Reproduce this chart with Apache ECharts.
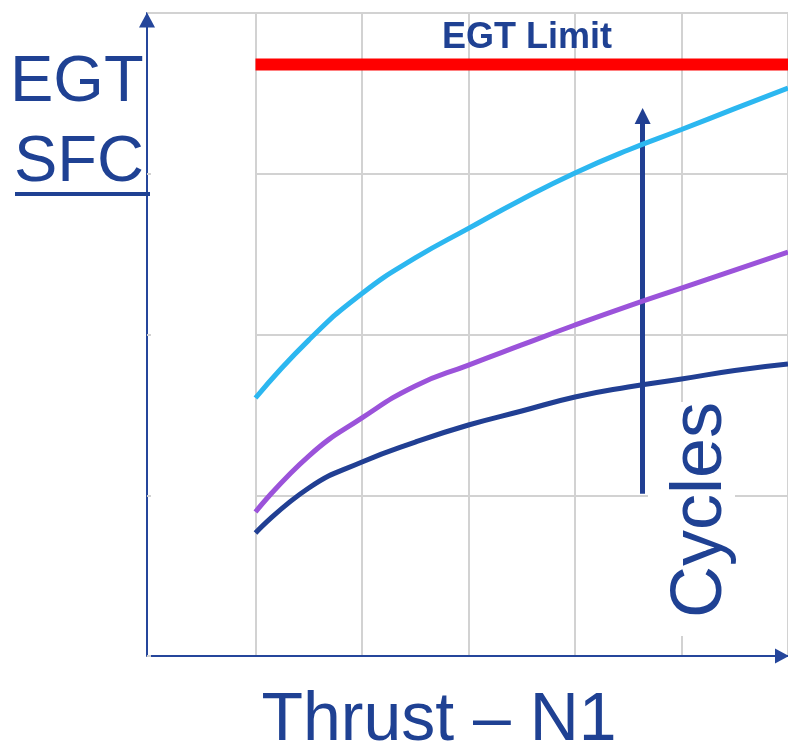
<!DOCTYPE html>
<html><head><meta charset="utf-8">
<script src="https://cdn.jsdelivr.net/npm/echarts@6/dist/echarts.min.js"></script>
<style>html,body{margin:0;padding:0;background:#fff}#c{width:788px;height:751px}</style>
</head><body><div id="c"></div>
<script>
// Thrust (N1) positions, arbitrary units
const thrust = [100, 150, 200, 250, 300, 350, 400, 450, 500, 550, 600];
// EGT / SFC curves for increasing cycles
const cyclesHigh = [160.5, 196.5, 225.5, 247.6, 266.0, 284.0, 300.5, 314.8, 327.5, 340.5, 353.3];
const cyclesMid  = [89.6, 124.4, 148.1, 168.0, 181.0, 193.5, 205.9, 217.7, 228.9, 240.1, 251.3];
const cyclesLow  = [76.5, 104.5, 120.7, 133.1, 143.7, 152.4, 161.1, 167.3, 172.3, 177.6, 181.6];
// EGT limit line
const egtLimitX = [100, 600];
const egtLimitValue = 368;
// "Cycles" arrow
const cyclesArrowX = 463.5;
const cyclesArrowY = [101, 336];

const TXT = '#1F4193';
const AX = '#25469B';
const GRID = '#D2D2D2';
const FONT = '"Liberation Sans", Arial, sans-serif';

const pairs = (ys) => thrust.map((x, i) => [x, ys[i]]);

const chart = echarts.init(document.getElementById('c'), null, {renderer: 'canvas'});
chart.setOption({
  animation: false,
  backgroundColor: '#ffffff',
  grid: [
    {left: 149, top: 13, width: 641, height: 643},
    {left: 256, top: 13, width: 534, height: 643}
  ],
  xAxis: [
    {gridIndex: 0, type: 'value', min: 0, max: 600, interval: 100, position: 'bottom',
     axisLine: {show: true, onZero: false, lineStyle: {color: AX, width: 2},
       symbol: ['none', 'triangle'], symbolSize: [15, 14], symbolOffset: [0, -6]},
     axisTick: {show: false}, axisLabel: {show: false},
     splitLine: {show: true, showMinLine: false, lineStyle: {color: GRID, width: 2}}},
    {gridIndex: 0, type: 'value', min: 0, max: 600, position: 'top',
     axisLine: {show: true, onZero: false, lineStyle: {color: GRID, width: 2}},
     axisTick: {show: false}, axisLabel: {show: false}, splitLine: {show: false}},
    {gridIndex: 1, type: 'value', min: 0, max: 600, show: false}
  ],
  yAxis: [
    {gridIndex: 0, type: 'value', min: 0, max: 400, interval: 100, offset: 2,
     axisLine: {show: true, onZero: false, lineStyle: {color: AX, width: 2},
       symbol: ['none', 'triangle'], symbolSize: [16, 15], symbolOffset: [0, -7]},
     axisTick: {show: true, inside: true, length: 4, lineStyle: {color: GRID, width: 2}},
     axisLabel: {show: false}, splitLine: {show: false}},
    {gridIndex: 1, type: 'value', min: 0, max: 400, interval: 100,
     axisLine: {show: false}, axisTick: {show: false}, axisLabel: {show: false},
     splitLine: {show: true, showMinLine: false, lineStyle: {color: GRID, width: 2}}}
  ],
  series: [
    {type: 'line', xAxisIndex: 0, yAxisIndex: 0, data: pairs(cyclesHigh), smooth: 0.5,
     showSymbol: false, lineStyle: {color: '#2CB7F0', width: 5}},
    {type: 'line', xAxisIndex: 0, yAxisIndex: 0, data: pairs(cyclesMid), smooth: 0.5,
     showSymbol: false, lineStyle: {color: '#9B53DA', width: 5}},
    {type: 'line', xAxisIndex: 0, yAxisIndex: 0, data: pairs(cyclesLow), smooth: 0.5,
     showSymbol: false, lineStyle: {color: '#213F93', width: 5}},
    {type: 'line', xAxisIndex: 0, yAxisIndex: 0, data: egtLimitX.map(x => [x, egtLimitValue]),
     showSymbol: false, lineStyle: {color: '#FF0000', width: 12, cap: 'butt'}},
    {type: 'lines', coordinateSystem: 'cartesian2d', xAxisIndex: 0, yAxisIndex: 0,
     data: [{coords: [[cyclesArrowX, cyclesArrowY[0]], [cyclesArrowX, cyclesArrowY[1]]]}],
     symbol: ['none', 'triangle'], symbolSize: [17, 16],
     lineStyle: {color: '#213F93', width: 5, opacity: 1}}
  ],
  graphic: [
    {type: 'rect', z: 50, shape: {x: 648, y: 402, width: 87, height: 234}, style: {fill: '#ffffff'}},
    {type: 'text', z: 60, x: 701, y: 510, rotation: Math.PI / 2,
     style: {text: 'Cycles', font: '72px ' + FONT, fill: TXT, align: 'center', verticalAlign: 'middle'}},
    {type: 'text', z: 60, x: 10, y: 83, style: {text: 'EGT', font: '65px ' + FONT, fill: TXT, align: 'left', verticalAlign: 'middle'}},
    {type: 'text', z: 60, x: 14, y: 163, style: {text: 'SFC', font: '65px ' + FONT, fill: TXT, align: 'left', verticalAlign: 'middle'}},
    {type: 'rect', z: 60, shape: {x: 15, y: 192, width: 135, height: 4}, style: {fill: TXT}},
    {type: 'text', z: 60, x: 439, y: 721, style: {text: 'Thrust – N1', font: '68px ' + FONT, fill: TXT, align: 'center', verticalAlign: 'middle'}},
    {type: 'text', z: 60, x: 527, y: 38, style: {text: 'EGT Limit', font: 'bold 36px ' + FONT, fill: TXT, align: 'center', verticalAlign: 'middle'}}
  ]
});
</script></body></html>
